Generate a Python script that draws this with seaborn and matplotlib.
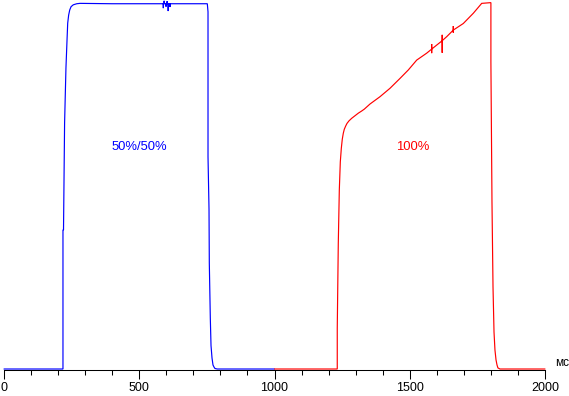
import matplotlib
matplotlib.use("Agg")
import matplotlib.pyplot as plt
import seaborn as sns
import pandas as pd
from matplotlib.ticker import MultipleLocator

sns.set_style("white")
plt.rcParams['font.family'] = ['Liberation Sans', 'DejaVu Sans']

# Blue series: 50%/50% (time in ms, level in %)
blue_ms = [0, 218, 218, 220, 224, 229, 233, 235.5, 239, 243, 248, 256, 269, 281,
           400, 500, 589, 589, 589, 592, 592, 592, 599, 599, 599, 603, 603, 603,
           607, 607, 607, 614, 614, 614, 700, 751.6, 754.2, 754.2, 757.9, 759,
           762.7, 765.3, 769, 772.6, 776.3, 780, 788.5, 798.5, 1000]
blue_val = [0, 0, 38.0, 38.0, 67.2, 82.2, 89.9, 94.5, 96.7, 98.1, 99.0, 99.5, 99.8, 99.9,
            99.8, 99.8, 99.8, 98.6, 99.8, 99.8, 100.6, 99.8, 99.8, 99.0, 99.8, 99.8, 100.5, 99.8,
            99.8, 97.8, 99.8, 99.8, 98.9, 99.8, 99.8, 99.8, 97.6, 58.0, 43.7, 29.0,
            13.9, 6.4, 3.0, 1.1, 0.55, 0.14, 0, 0, 0]

# Red series: 100%
red_ms = [1000, 1232, 1232, 1235.8, 1239.6, 1243.3, 1247, 1250.6, 1254.3, 1258, 1263.2,
          1268, 1275.4, 1285.4, 1297.6, 1309.8, 1322.4, 1332, 1353, 1390, 1427, 1464,
          1494.6, 1525.7, 1562.7, 1581, 1581, 1581, 1581, 1599.6, 1620, 1620, 1620, 1620,
          1636.6, 1661, 1661, 1661, 1661, 1698, 1735, 1766, 1800, 1800, 1804, 1807.8,
          1811.5, 1815, 1818.9, 1822.6, 1826, 1833.6, 2000]
red_val = [0, 0, 11.1, 34.3, 48.9, 56.6, 60.3, 62.8, 64.4, 65.5, 66.4,
           67.1, 67.8, 68.5, 69.2, 69.9, 70.5, 71.0, 72.4, 74.4, 76.7, 79.4,
           81.7, 84.4, 86.3, 87.4, 88.8, 86.3, 87.4, 88.5, 89.7, 91.3, 86.4, 89.7,
           90.8, 92.6, 93.7, 91.9, 92.6, 94.4, 97.2, 99.9, 100.1, 83.9, 45.6, 22.4,
           10.1, 5.2, 2.5, 1.1, 0.3, 0, 0]

series_names = ['50%/50%', '100%']
series_colors = ['#0000FF', '#FF0000']
label_pos_ms = [499, 1512]
label_pos_val = [60.6, 60.6]

tick_major = [0, 500, 1000, 1500, 2000]
unit_label = 'мс'

df = pd.concat([
    pd.DataFrame({'ms': blue_ms, 'val': blue_val, 'series': series_names[0]}),
    pd.DataFrame({'ms': red_ms, 'val': red_val, 'series': series_names[1]}),
], ignore_index=True)

W, H = 569, 396
fig = plt.figure(figsize=(W / 100, H / 100), dpi=100)
ax = fig.add_axes([4 / W, 26 / H, 541 / W, 367 / H])

sns.lineplot(data=df, x='ms', y='val', hue='series', palette=dict(zip(series_names, series_colors)),
             sort=False, estimator=None, legend=False, linewidth=0.85, ax=ax)
for ln in ax.get_lines():
    ln.set_clip_on(False)
    ln.set_solid_joinstyle('miter')

ax.set_xlim(0, 2000)
ax.set_ylim(-0.27, 100)
ax.set_xlabel('')
ax.set_ylabel('')
ax.set_yticks([])
ax.set_xticks(tick_major)
ax.set_xticklabels([str(t) for t in tick_major])
ax.xaxis.set_minor_locator(MultipleLocator(100))
ax.tick_params(axis='x', which='major', direction='out', length=6.5, width=0.75,
               color='black', pad=2, labelsize=9, labelcolor='black', bottom=True)
ax.tick_params(axis='x', which='minor', direction='out', length=3.6, width=0.75,
               color='black', bottom=True)
for s in ['left', 'top', 'right']:
    ax.spines[s].set_visible(False)
ax.spines['bottom'].set_color('black')
ax.spines['bottom'].set_linewidth(0.75)

for name, c, xm, yv in zip(series_names, series_colors, label_pos_ms, label_pos_val):
    ax.text(xm, yv, name, color=c, ha='center', va='center', fontsize=9.4)

ax.text(2036, 0.0, unit_label, ha='left', va='bottom', fontsize=8.5, color='black', clip_on=False)

fig.savefig('out.png', dpi=100)
